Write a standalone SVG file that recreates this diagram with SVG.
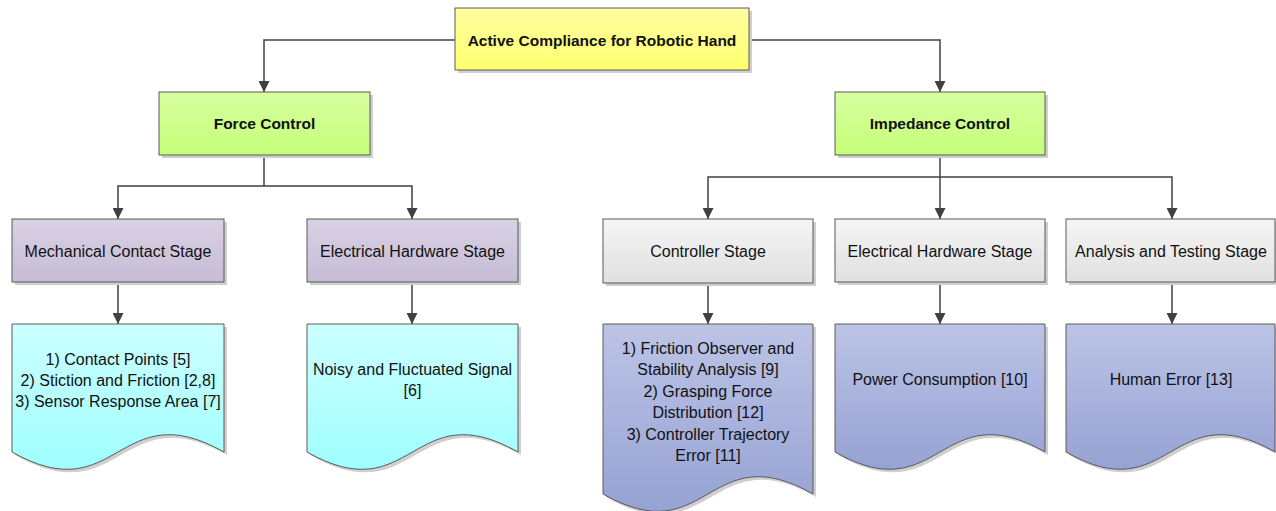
<svg xmlns="http://www.w3.org/2000/svg" width="1276" height="511" viewBox="0 0 1276 511">
<style>
text{font-family:"Liberation Sans",Arial,sans-serif;font-size:16px;fill:#111;text-anchor:middle;dominant-baseline:central}
.b{font-weight:bold;font-size:15.5px}
.box{stroke:#5a5a5a;stroke-width:1}
.sh{fill:#cfcfcf}
.con{fill:none;stroke:#404040;stroke-width:1.5}
</style>
<defs>
<linearGradient id="gy" x1="0" y1="0" x2="0" y2="1"><stop offset="0" stop-color="#ffffa0"/><stop offset="1" stop-color="#ffff70"/></linearGradient>
<linearGradient id="gg" x1="0" y1="0" x2="0" y2="1"><stop offset="0" stop-color="#d8ffa0"/><stop offset="1" stop-color="#c4ff78"/></linearGradient>
<linearGradient id="gp" x1="0" y1="0" x2="0" y2="1"><stop offset="0" stop-color="#d9d1e4"/><stop offset="1" stop-color="#c6bcd6"/></linearGradient>
<linearGradient id="gr" x1="0" y1="0" x2="0" y2="1"><stop offset="0" stop-color="#f5f5f5"/><stop offset="1" stop-color="#e0e0e0"/></linearGradient>
<linearGradient id="gc" x1="0" y1="0" x2="0" y2="1"><stop offset="0" stop-color="#ccffff"/><stop offset="1" stop-color="#a0ffff"/></linearGradient>
<linearGradient id="gb" x1="0" y1="0" x2="0" y2="1"><stop offset="0" stop-color="#bcc4e6"/><stop offset="1" stop-color="#96a2d3"/></linearGradient>
<marker id="ar" markerUnits="userSpaceOnUse" markerWidth="11" markerHeight="11" viewBox="0 0 10 10" refX="10" refY="5" orient="auto"><path d="M0,0 L10,5 L0,10 z" fill="#404040"/></marker>
</defs>

<g id="connectors">
<path class="con" d="M455,40 H264 V92" marker-end="url(#ar)"/>
<path class="con" d="M749,40 H940 V92" marker-end="url(#ar)"/>
<path class="con" d="M264,155 V186"/>
<path class="con" d="M264,186 H118 V219" marker-end="url(#ar)"/>
<path class="con" d="M264,186 H412 V219" marker-end="url(#ar)"/>
<path class="con" d="M940,155 V219" marker-end="url(#ar)"/>
<path class="con" d="M940,177 H708 V219" marker-end="url(#ar)"/>
<path class="con" d="M940,177 H1172 V219" marker-end="url(#ar)"/>
<path class="con" d="M118,282 V324" marker-end="url(#ar)"/>
<path class="con" d="M412,282 V324" marker-end="url(#ar)"/>
<path class="con" d="M708,283 V324" marker-end="url(#ar)"/>
<path class="con" d="M940,282 V324" marker-end="url(#ar)"/>
<path class="con" d="M1172,282 V324" marker-end="url(#ar)"/>
</g>

<g id="root">
<rect class="sh" x="458" y="11" width="294" height="62"/>
<rect class="box" x="455" y="8" width="294" height="62" fill="url(#gy)"/>
<text class="b" x="602" y="40">Active Compliance for Robotic Hand</text>
</g>

<g id="force">
<rect class="sh" x="162" y="95" width="211" height="63"/>
<rect class="box" x="159" y="92" width="211" height="63" fill="url(#gg)"/>
<text class="b" x="264.5" y="123">Force Control</text>
</g>

<g id="impedance">
<rect class="sh" x="838" y="95" width="210" height="63"/>
<rect class="box" x="835" y="92" width="210" height="63" fill="url(#gg)"/>
<text class="b" x="940" y="123">Impedance Control</text>
</g>

<g id="mech-stage">
<rect class="sh" x="15" y="222" width="212" height="63"/>
<rect class="box" x="12" y="219" width="212" height="63" fill="url(#gp)"/>
<text x="118" y="251">Mechanical Contact Stage</text>
</g>

<g id="elec-stage-1">
<rect class="sh" x="310" y="222" width="211" height="63"/>
<rect class="box" x="307" y="219" width="211" height="63" fill="url(#gp)"/>
<text x="412.5" y="251">Electrical Hardware Stage</text>
</g>

<g id="ctrl-stage">
<rect class="sh" x="606" y="222" width="210" height="64"/>
<rect class="box" x="603" y="219" width="210" height="64" fill="url(#gr)"/>
<text x="708" y="251">Controller Stage</text>
</g>

<g id="elec-stage-2">
<rect class="sh" x="838" y="222" width="210" height="63"/>
<rect class="box" x="835" y="219" width="210" height="63" fill="url(#gr)"/>
<text x="940" y="251">Electrical Hardware Stage</text>
</g>

<g id="test-stage">
<rect class="sh" x="1069" y="222" width="210" height="63"/>
<rect class="box" x="1066" y="219" width="209" height="63" fill="url(#gr)"/>
<text x="1171" y="251">Analysis and Testing Stage</text>
</g>

<g id="mech-doc">
<path class="sh" transform="translate(3,3)" d="M12,324 H224 V452 C118,392 118,512 12,452 Z"/>
<path class="box" d="M12,324 H224 V452 C118,392 118,512 12,452 Z" fill="url(#gc)"/>
<text x="118" y="359">1) Contact Points [5]</text>
<text x="118" y="380">2) Stiction and Friction [2,8]</text>
<text x="118" y="401">3) Sensor Response Area [7]</text>
</g>

<g id="noise-doc">
<path class="sh" transform="translate(3,3)" d="M307,324 H518 V452 C412.5,392 412.5,512 307,452 Z"/>
<path class="box" d="M307,324 H518 V452 C412.5,392 412.5,512 307,452 Z" fill="url(#gc)"/>
<text x="412.5" y="369">Noisy and Fluctuated Signal</text>
<text x="412.5" y="390">[6]</text>
</g>

<g id="ctrl-doc">
<path class="sh" transform="translate(3,3)" d="M603,324 H813 V494 C708,434 708,554 603,494 Z"/>
<path class="box" d="M603,324 H813 V494 C708,434 708,554 603,494 Z" fill="url(#gb)"/>
<text x="708" y="348">1) Friction Observer and</text>
<text x="708" y="369">Stability Analysis [9]</text>
<text x="708" y="391">2) Grasping Force</text>
<text x="708" y="412">Distribution [12]</text>
<text x="708" y="434">3) Controller Trajectory</text>
<text x="708" y="455">Error [11]</text>
</g>

<g id="power-doc">
<path class="sh" transform="translate(3,3)" d="M835,324 H1045 V452 C940,392 940,512 835,452 Z"/>
<path class="box" d="M835,324 H1045 V452 C940,392 940,512 835,452 Z" fill="url(#gb)"/>
<text x="940" y="379">Power Consumption [10]</text>
</g>

<g id="human-doc">
<path class="sh" transform="translate(3,3)" d="M1066,324 H1275 V452 C1170.5,392 1170.5,512 1066,452 Z"/>
<path class="box" d="M1066,324 H1275 V452 C1170.5,392 1170.5,512 1066,452 Z" fill="url(#gb)"/>
<text x="1171" y="379">Human Error [13]</text>
</g>
</svg>
